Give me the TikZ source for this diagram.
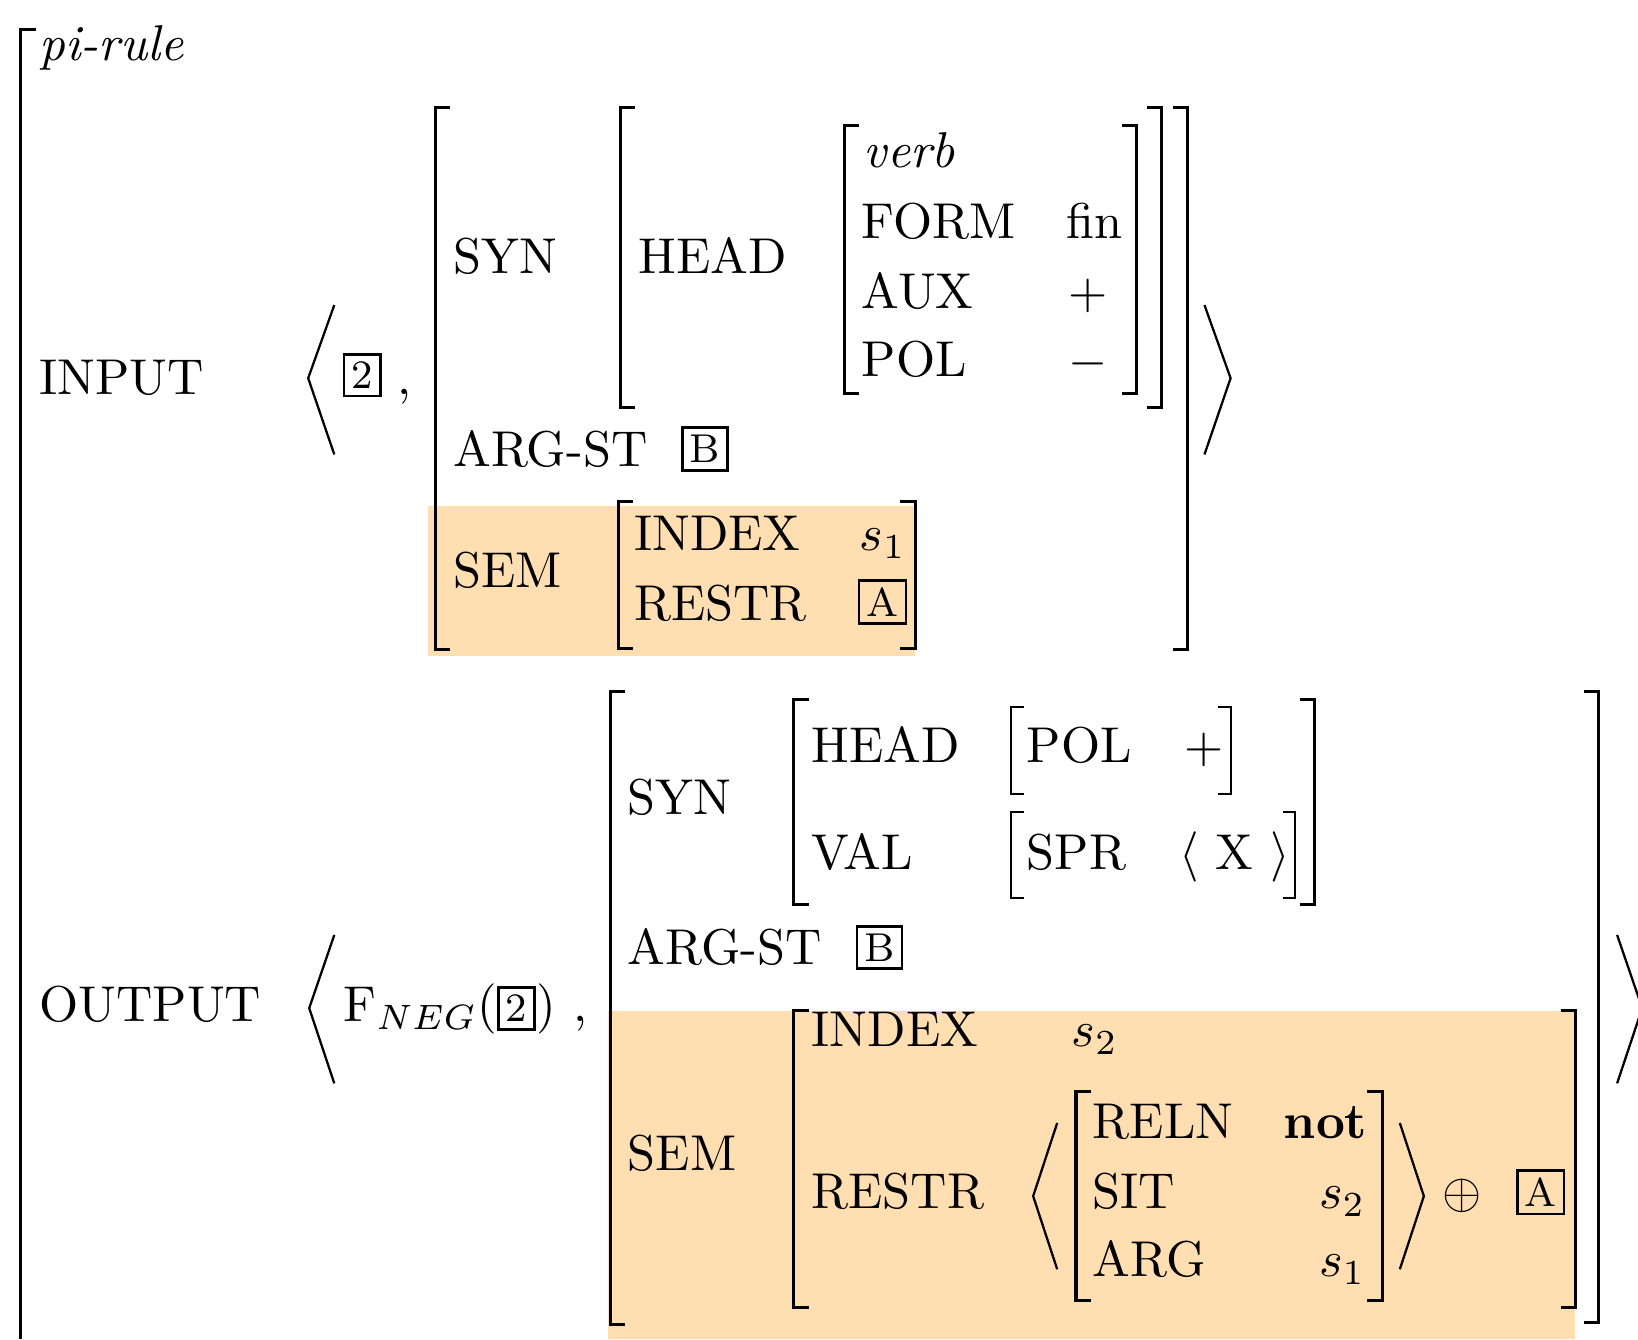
\documentclass[tikz,border=0pt]{standalone}
\usepackage{amssymb}
\definecolor{semfill}{RGB}{255,222,178}
\newcommand{\tagbox}[1]{{\setlength{\fboxsep}{1.2pt}\setlength{\fboxrule}{0.55pt}\fbox{\footnotesize #1}}}

\begin{document}
\begin{tikzpicture}[x=0.2075pt, y=-0.2075pt,
    lbl/.style={anchor=base west, inner sep=0pt},
    brk/.style={line width=0.6pt},
    thinbrk/.style={line width=0.4pt},
    ang/.style={line width=0.45pt}]
    \useasboundingbox (0,0) rectangle (1568,1282);

    % shaded SEM values
    \fill[semfill] (410,484) rectangle (876,628);
    \fill[semfill] (582,968) rectangle (1508,1282);

    % outer bracket
    \draw[brk] (34,28) -- (20,28) -- (20,1282);

    % left brackets: x / top / bottom
    \foreach \x/\t/\b in {417/103/622, 594/103/390, 808/120/377, 592/480/621,
        584/662/1268, 760/670/866, 760/967/1252, 1030/1045/1245}
        \draw[brk] ({\x+14},\t) -- (\x,\t) -- (\x,\b) -- ({\x+14},\b);
    \foreach \x/\t/\b in {968/677/760, 968/777/860}
        \draw[thinbrk] ({\x+12},\t) -- (\x,\t) -- (\x,\b) -- ({\x+12},\b);
    % right brackets
    \foreach \x/\t/\b in {1088/120/377, 1112/103/390, 1137/103/622, 876/480/621,
        1530/662/1266, 1258/670/866, 1508/967/1252, 1323/1045/1245}
        \draw[brk] ({\x-14},\t) -- (\x,\t) -- (\x,\b) -- ({\x-14},\b);
    \foreach \x/\t/\b in {1178/677/760, 1240/777/860}
        \draw[thinbrk] ({\x-12},\t) -- (\x,\t) -- (\x,\b) -- ({\x-12},\b);

    % angle brackets
    \draw[ang] (320,292) -- (295,362) -- (320,435); \draw[ang] (1153,292) -- (1178,362) -- (1153,435);
    \draw[ang] (320,895) -- (296,965) -- (320,1037); \draw[ang] (1548,895) -- (1572,965) -- (1548,1037);
    \draw[ang] (1012,1075) -- (989,1145) -- (1012,1215); \draw[ang] (1340,1075) -- (1363,1145) -- (1340,1215);

    \node[lbl] (pirule) at (37,58) {\textit{pi-rule}};

    % INPUT
    \node[lbl] (input) at (37,378) {INPUT};
    \node[lbl] (intwo) at (327,372) {\tagbox{2}}; \node[lbl] (incomma) at (380,378) {,};
    \node[lbl] (insyn) at (433,262) {SYN}; \node[lbl] (inhead) at (610,262) {HEAD};
    \node[lbl] (verb) at (826,160) {\textit{verb}};
    \node[lbl] (form) at (824,228) {FORM}; \node[lbl] (fin) at (1020,228) {fin};
    \node[lbl] (aux) at (824,295) {AUX}; \node[lbl] (auxval) at (1022,295) {$+$};
    \node[lbl] (inpol) at (824,360) {POL}; \node[lbl] (inpolval) at (1022,360) {$-$};
    \node[lbl] (inargst) at (433,447) {ARG-ST}; \node[lbl] (inB) at (651,443) {\tagbox{B}};
    \node[lbl] (insem) at (433,562) {SEM};
    \node[lbl] (inindex) at (606,527) {INDEX}; \node[lbl] (ins) at (822,527) {$s_1$};
    \node[lbl] (inrestr) at (606,594) {RESTR}; \node[lbl] (inA) at (820,590) {\tagbox{A}};

    % OUTPUT
    \node[lbl] (output) at (37,978) {OUTPUT};
    \node[lbl] (fneg) at (328,978) {$\mathrm{F}_{NEG}($\tagbox{2}$)$}; \node[lbl] (outcomma) at (548,978) {,};
    \node[lbl] (outsyn) at (600,780) {SYN};
    \node[lbl] (outhead) at (776,730) {HEAD};
    \node[lbl] (outpol) at (982,730) {POL}; \node[lbl] (outpolval) at (1133,730) {$+$};
    \node[lbl] (val) at (776,832) {VAL};
    \node[lbl] (spr) at (982,832) {SPR}; \node[lbl] (sprval) at (1128,832) {$\langle$ X $\rangle$};
    \node[lbl] (outargst) at (600,923) {ARG-ST}; \node[lbl] (outB) at (818,920) {\tagbox{B}};
    \node[lbl] (outsem) at (600,1120) {SEM};
    \node[lbl] (outindex) at (776,1002) {INDEX}; \node[lbl] (outs) at (1025,1002) {$s_2$};
    \node[lbl] (outrestr) at (776,1157) {RESTR};
    \node[lbl] (reln) at (1045,1090) {RELN}; \node[lbl] (not) at (1228,1090) {\textbf{not}};
    \node[lbl] (sit) at (1045,1157) {SIT}; \node[lbl] (sitval) at (1262,1157) {$s_2$};
    \node[lbl] (arg) at (1045,1222) {ARG}; \node[lbl] (argval) at (1262,1222) {$s_1$};
    \node[lbl] (oplus) at (1380,1157) {$\oplus$}; \node[lbl] (outA) at (1450,1155) {\tagbox{A}};
\end{tikzpicture}
\end{document}
